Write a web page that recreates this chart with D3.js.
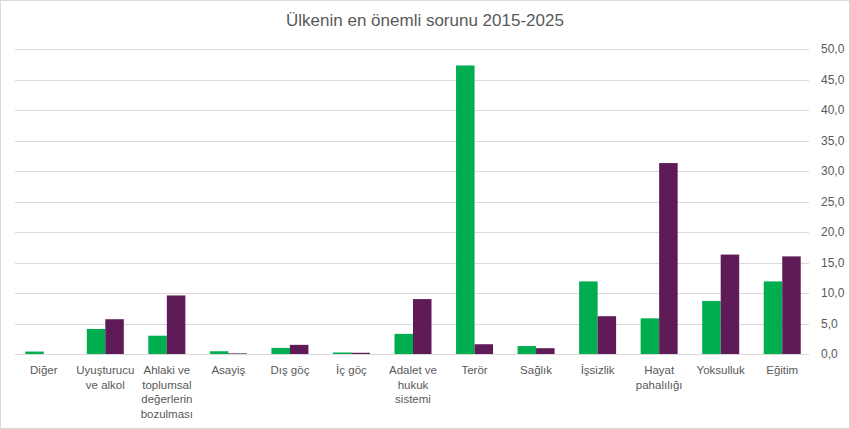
<!DOCTYPE html>
<html>
<head>
<meta charset="utf-8">
<script src="https://cdn.jsdelivr.net/npm/d3@7"></script>
<style>
body { margin: 0; background: #fff; }
text { font-family: "Liberation Sans", "Noto Sans", sans-serif; fill: #595959; }
</style>
</head>
<body>
<div id="chart"></div>
<script>
var categories = [
	["Diğer"], ["Uyuşturucu", "ve alkol"], ["Ahlaki ve", "toplumsal", "değerlerin", "bozulması"],
	["Asayiş"], ["Dış göç"], ["İç göç"], ["Adalet ve", "hukuk", "sistemi"], ["Terör"],
	["Sağlık"], ["İşsizlik"], ["Hayat", "pahalılığı"], ["Yoksulluk"], ["Eğitim"]
];
var series2015 = [0.4, 4.1, 3.0, 0.45, 1.0, 0.25, 3.3, 47.3, 1.3, 11.9, 5.85, 8.7, 11.9];
var series2025 = [0, 5.7, 9.6, 0.1, 1.5, 0.2, 9.0, 1.6, 0.95, 6.2, 31.3, 16.3, 16.0];
var yTicks = [0, 5, 10, 15, 20, 25, 30, 35, 40, 45, 50];
var seriesColors = ["#00ad4f", "#5f1b57"];

var width = 850, height = 429;
var svg = d3.select("#chart").append("svg")
	.attr("width", width)
	.attr("height", height);

svg.append("rect")
	.attr("x", 0.5).attr("y", 0.5)
	.attr("width", width - 1).attr("height", height - 1)
	.style("fill", "#fff")
	.style("stroke", "#d9d9d9");

svg.append("text")
	.attr("x", 425)
	.attr("y", 26)
	.attr("text-anchor", "middle")
	.style("font-size", "17px")
	.text("Ülkenin en önemli sorunu 2015-2025");

var idx = d3.range(categories.length);
var x = d3.scaleBand().domain(idx).range([13, 813]).paddingInner(0).paddingOuter(0);
var y = d3.scaleLinear().domain([0, 50]).range([354, 49]);
var barW = 18.5;

// grid + right axis labels
svg.selectAll("line.grid").data(yTicks).enter().append("line")
	.attr("class", "grid")
	.attr("x1", 15).attr("x2", 809)
	.attr("y1", function(d) { return Math.round(y(d)) + 0.5; })
	.attr("y2", function(d) { return Math.round(y(d)) + 0.5; })
	.style("stroke", "#d9d9d9")
	.style("stroke-width", 1);

svg.selectAll("text.yl").data(yTicks).enter().append("text")
	.attr("class", "yl")
	.attr("x", 821)
	.attr("y", function(d) { return y(d) + 4; })
	.style("font-size", "12px")
	.text(function(d) { return d3.format(".1f")(d).replace(".", ","); });

// bars
[series2015, series2025].forEach(function(s, si) {
	svg.selectAll("rect.s" + si).data(s).enter().append("rect")
		.attr("class", "s" + si)
		.attr("x", function(d, i) { return x(i) + x.bandwidth() / 2 - barW + si * barW; })
		.attr("y", function(d) { return y(d); })
		.attr("width", barW)
		.attr("height", function(d) { return y(0) - y(d); })
		.style("fill", seriesColors[si]);
});

// category labels
var lab = svg.selectAll("text.xl").data(categories).enter().append("text")
	.attr("class", "xl")
	.attr("text-anchor", "middle")
	.style("font-size", "11.5px");
lab.each(function(lines, i) {
	d3.select(this).selectAll("tspan").data(lines).enter().append("tspan")
		.attr("x", x(i) + x.bandwidth() / 2)
		.attr("y", function(d, j) { return 374 + j * 14.5; })
		.text(function(d) { return d; });
});
</script>
</body>
</html>
